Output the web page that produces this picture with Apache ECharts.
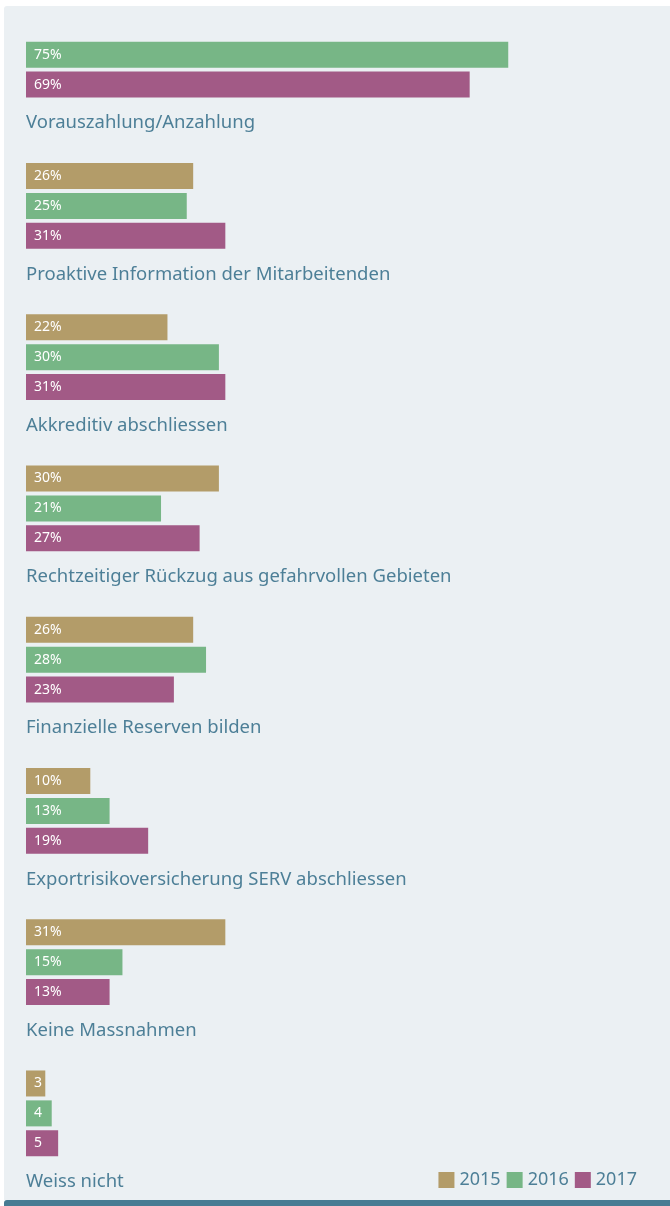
<!DOCTYPE html>
<html>
<head>
<meta charset="utf-8">
<script src="https://cdn.jsdelivr.net/npm/echarts@6/dist/echarts.min.js"></script>
<style>
  html, body { margin: 0; padding: 0; background: #ffffff; }
  #panel { position: absolute; left: 4px; top: 6px; width: 666px; height: 1194px; background: #ebf0f3; border-radius: 3px 0 0 0; }
  #bottomBar { position: absolute; left: 4px; top: 1200px; width: 666px; height: 6px; background: #477b93; border-radius: 3px 0 0 0; }
  #chart { position: absolute; left: 0; top: 0; width: 670px; height: 1206px; }
</style>
</head>
<body>
<div id="panel"></div>
<div id="bottomBar"></div>
<div id="chart"></div>
<script>
const categories = [
  'Vorauszahlung/Anzahlung',
  'Proaktive Information der Mitarbeitenden',
  'Akkreditiv abschliessen',
  'Rechtzeitiger Rückzug aus gefahrvollen Gebieten',
  'Finanzielle Reserven bilden',
  'Exportrisikoversicherung SERV abschliessen',
  'Keine Massnahmen',
  'Weiss nicht'
];
const seriesNames = ['2015', '2016', '2017'];
const values2015 = [null, 26, 22, 30, 26, 10, 31, 3];
const values2016 = [75, 25, 30, 21, 28, 13, 15, 4];
const values2017 = [69, 31, 31, 27, 23, 19, 13, 5];
const labelSuffixes = ['%', '%', '%', '%', '%', '%', '%', ''];
const colors = ['#b39c69', '#77b686', '#a25a86'];

const textColor = '#4d7f97';
const fontFamily = '"Noto Sans", sans-serif';

const chart = echarts.init(document.getElementById('chart'), null, { renderer: 'canvas' });

function makeSeries(name, values, color) {
  return {
    name: name,
    type: 'bar',
    data: values.map(v => (v === null ? '-' : v)),
    barWidth: 26,
    barGap: '15%',
    itemStyle: { color: color },
    label: {
      show: true,
      position: 'insideLeft',
      distance: 8,
      color: '#ffffff',
      fontSize: 14,
      fontFamily: fontFamily,
      formatter: p => p.value + labelSuffixes[p.dataIndex]
    },
    emphasis: { disabled: true },
    animation: false
  };
}

chart.setOption({
  animation: false,
  color: colors,
  grid: { left: 26, right: 1, top: -21, height: 1210, outerBoundsMode: 'none', containLabel: false },
  xAxis: { type: 'value', min: 0, max: 100, show: false },
  yAxis: {
    type: 'category',
    inverse: true,
    data: categories,
    axisLine: { show: false },
    axisTick: { show: false },
    splitLine: { show: false },
    axisLabel: {
      inside: true,
      margin: 0,
      align: 'left',
      verticalAlign: 'top',
      lineHeight: 137,
      color: textColor,
      fontSize: 18.5,
      fontFamily: fontFamily
    }
  },
  legend: {
    data: seriesNames,
    right: 28,
    top: 1166,
    icon: 'rect',
    itemWidth: 16,
    itemHeight: 16,
    itemGap: 6,
    textStyle: { color: textColor, fontSize: 18, fontFamily: fontFamily },
    selectedMode: false
  },
  series: [
    makeSeries(seriesNames[0], values2015, colors[0]),
    makeSeries(seriesNames[1], values2016, colors[1]),
    makeSeries(seriesNames[2], values2017, colors[2])
  ]
});
</script>
</body>
</html>
